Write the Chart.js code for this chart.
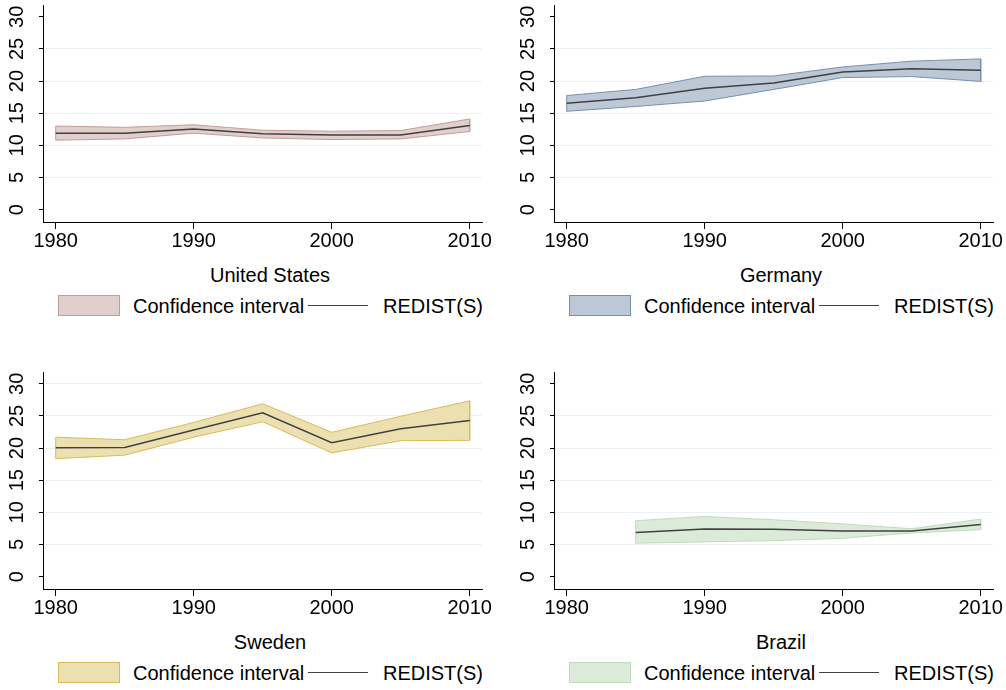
<!DOCTYPE html>
<html><head><meta charset="utf-8">
<script src="https://cdn.jsdelivr.net/npm/chart.js@4.4.1/dist/chart.umd.min.js"></script>
<style>
html,body{margin:0;padding:0;background:#fff;}
body{width:1006px;height:690px;position:relative;overflow:hidden;font-family:'Liberation Sans',Arial,Helvetica,sans-serif;color:#000;}
.panel{position:absolute;width:503px;height:345px;}
.panel canvas{position:absolute;left:0;top:0;}
.title{position:absolute;left:0;width:540px;top:265px;text-align:center;font-size:20px;line-height:20px;white-space:nowrap;}
.lg-box{position:absolute;left:58px;top:295px;width:60px;height:19px;border:1px solid;}
.lg-text{position:absolute;top:296px;font-size:20px;line-height:20px;white-space:nowrap;}
.lg-line{position:absolute;left:308px;top:305px;width:60px;height:0;border-top:1.5px solid #404040;}
</style>
</head><body>
<script>
// ---- data ----
const years = [1980, 1985, 1990, 1995, 2000, 2005, 2010];
const xTicks = [1980, 1990, 2000, 2010];
const yTicks = [0, 5, 10, 15, 20, 25, 30];
const countries = ['United States', 'Germany', 'Sweden', 'Brazil'];
const legendLabels = ['Confidence interval', 'REDIST(S)'];

const usRedist = [11.9, 11.9, 12.55, 11.8, 11.6, 11.6, 13.1];
const usUpper  = [13.0, 12.8, 13.2, 12.35, 12.2, 12.3, 14.1];
const usLower  = [10.8, 11.0, 11.9, 11.15, 10.9, 11.0, 12.15];

const deRedist = [16.55, 17.4, 18.9, 19.7, 21.4, 21.9, 21.7];
const deUpper  = [17.75, 18.7, 20.75, 20.8, 22.2, 23.1, 23.45];
const deLower  = [15.3, 16.05, 16.9, 18.7, 20.55, 20.7, 19.95];

const seRedist = [20.05, 20.1, 22.8, 25.5, 20.85, 23.0, 24.3];
const seUpper  = [21.7, 21.3, 24.0, 26.9, 22.45, 24.95, 27.35];
const seLower  = [18.35, 18.9, 21.7, 24.1, 19.25, 21.15, 21.2];

const brRedist = [null, 6.87, 7.4, 7.35, 7.1, 7.1, 8.1];
const brUpper  = [null, 8.7, 9.35, 8.85, 8.2, 7.45, 8.95];
const brLower  = [null, 5.2, 5.4, 5.6, 5.95, 6.8, 7.3];

// ---- styling / layout ----
const FONT = "'Liberation Sans', Arial, Helvetica, sans-serif";
const GRID = '#eaf2f3';
const panels = [
  {name: countries[0], left: 0,   top: 0,   redist: usRedist, upper: usUpper, lower: usLower, fill: '#e0cfcd', edge: '#c39d99', grid30: false},
  {name: countries[1], left: 511, top: 0,   redist: deRedist, upper: deUpper, lower: deLower, fill: '#bcc8d5', edge: '#7590ae', grid30: false},
  {name: countries[2], left: 0,   top: 367, redist: seRedist, upper: seUpper, lower: seLower, fill: '#ece0b1', edge: '#d6bb5c', grid30: true},
  {name: countries[3], left: 511, top: 367, redist: brRedist, upper: brUpper, lower: brLower, fill: '#dcebd9', edge: '#bddcb9', grid30: false}
];

function pts(ys) {
  return years.map((x, i) => ({x: x, y: ys[i]})).filter(p => p.y !== null);
}

panels.forEach(p => {
  const div = document.createElement('div');
  div.className = 'panel';
  div.style.left = p.left + 'px';
  div.style.top = p.top + 'px';
  document.body.appendChild(div);

  const cv = document.createElement('canvas');
  cv.width = 503; cv.height = 262;
  cv.style.width = '503px'; cv.style.height = '262px';
  div.appendChild(cv);

  const title = document.createElement('div');
  title.className = 'title';
  title.textContent = p.name;
  div.appendChild(title);

  const box = document.createElement('div');
  box.className = 'lg-box';
  box.style.background = p.fill;
  box.style.borderColor = p.edge;
  div.appendChild(box);
  const t1 = document.createElement('div');
  t1.className = 'lg-text'; t1.style.left = '133px'; t1.textContent = legendLabels[0];
  div.appendChild(t1);
  const ln = document.createElement('div');
  ln.className = 'lg-line';
  div.appendChild(ln);
  const t2 = document.createElement('div');
  t2.className = 'lg-text'; t2.style.left = '383px'; t2.textContent = legendLabels[1];
  div.appendChild(t2);

  const up = pts(p.upper), lo = pts(p.lower);
  const outline = up.concat(lo.slice().reverse(), [up[0]]);

  new Chart(cv, {
    type: 'line',
    data: {
      datasets: [
        {label: 'upper', data: up, borderWidth: 0, borderColor: 'rgba(0,0,0,0)', backgroundColor: p.fill, fill: '+1', pointRadius: 0, tension: 0, order: 3},
        {label: 'lower', data: lo, borderWidth: 0, borderColor: 'rgba(0,0,0,0)', fill: false, pointRadius: 0, tension: 0, order: 4},
        {label: legendLabels[0], data: outline, borderWidth: 1, borderColor: p.edge, fill: false, pointRadius: 0, tension: 0, order: 2},
        {label: legendLabels[1], data: pts(p.redist), borderWidth: 1.5, borderColor: '#404040', fill: false, pointRadius: 0, tension: 0, order: 1}
      ]
    },
    options: {
      responsive: false,
      animation: false,
      devicePixelRatio: 1,
      layout: {padding: {left: 0, top: 5, right: 21, bottom: 0}},
      plugins: {legend: {display: false}, tooltip: {enabled: false}, title: {display: false}},
      scales: {
        x: {
          type: 'linear', min: 1979.08, max: 2010.89,
          afterBuildTicks: s => { s.ticks = xTicks.map(v => ({value: v})); },
          afterFit: s => { s.height = 40; s.paddingLeft = 0; s.paddingRight = 0; },
          border: {display: true, color: '#000', width: 1},
          grid: {drawOnChartArea: false, drawTicks: true, tickLength: 7, tickColor: '#000', tickWidth: 1},
          ticks: {autoSkip: false, maxRotation: 0, minRotation: 0, padding: 0, color: '#000',
                  font: {family: FONT, size: 20}, callback: v => String(v)}
        },
        y: {
          type: 'linear', min: -1.93, max: 31.84,
          afterBuildTicks: s => { s.ticks = yTicks.map(v => ({value: v})); },
          afterFit: s => { s.width = 43; s.paddingTop = 0; s.paddingBottom = 0; },
          border: {display: true, color: '#000', width: 1},
          grid: {
            drawOnChartArea: true, drawTicks: true, tickLength: 4, tickColor: '#000', tickWidth: 1, lineWidth: 1,
            color: ctx => {
              const v = ctx.tick ? ctx.tick.value : null;
              if (v === 0) return 'rgba(0,0,0,0)';
              if (v === 30 && !p.grid30) return 'rgba(0,0,0,0)';
              return GRID;
            }
          },
          ticks: {autoSkip: false, minRotation: 90, maxRotation: 90, crossAlign: 'center', padding: 10, color: '#000',
                  font: {family: FONT, size: 20}, callback: v => String(v)}
        }
      }
    }
  });
});
</script>
</body></html>
